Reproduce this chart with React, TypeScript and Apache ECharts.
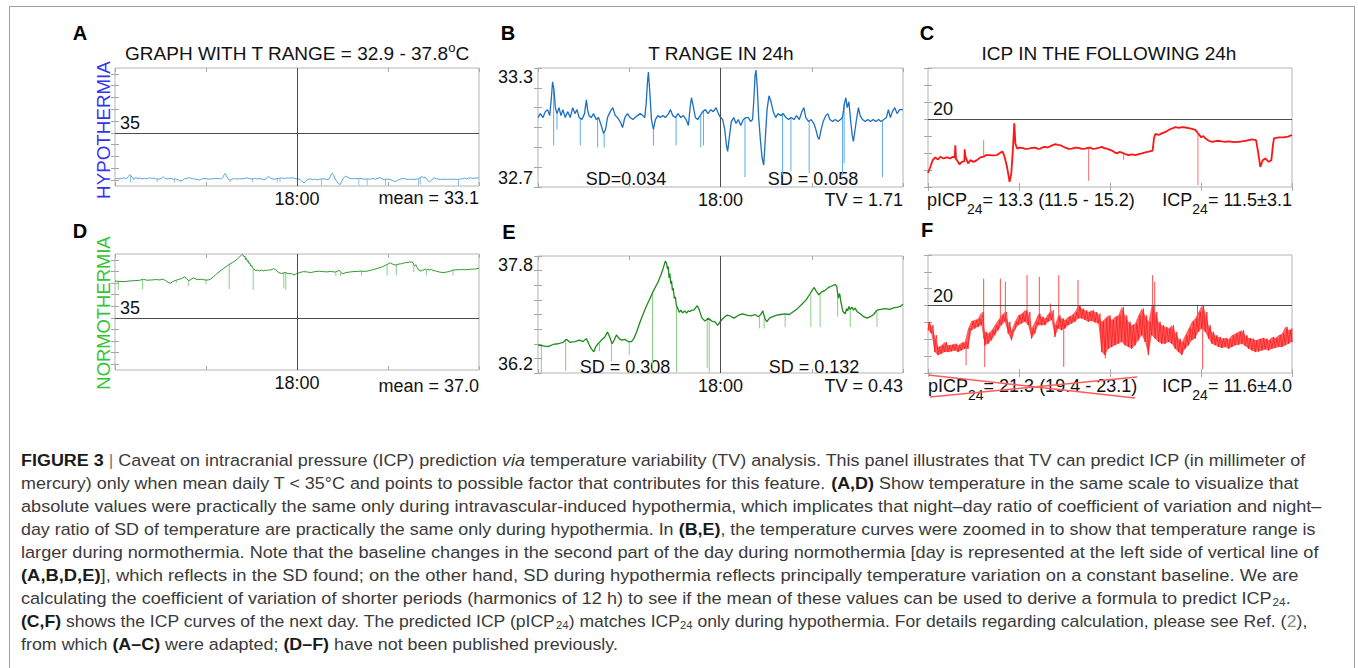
import React, { useEffect, useRef } from "react";
import * as echarts from "echarts";

// ================= DATA =================
// time in hours from 06:00 (0) to 06:00 next day (24); 18:00 = 12
const timeTicks = [0, 6, 12, 18, 24];
const midTime = 12;
const midLabel = "18:00";

// Hypothermia temperature (panels A and B), degC
const hypoTemp: number[][] = [
  [0, 33.05], [0.15, 33.07], [0.33, 33.05], [0.48, 33.08], [0.63, 33.09], [0.77, 33.06], [0.88, 33.15], [0.96, 33.23], [1.05, 33.19], [1.14, 33.1],
  [1.25, 33.07], [1.38, 33.1], [1.51, 33.06], [1.64, 33.09], [1.79, 33.05], [1.95, 33.08], [2.12, 33.05], [2.28, 33.1], [2.43, 33.07], [2.56, 33.09],
  [2.71, 33.05], [2.89, 33.04], [3.06, 33.07], [3.18, 33.14], [3.26, 33.09], [3.35, 33.06], [3.5, 33.05], [3.65, 33.07], [3.83, 33.04], [3.98, 33.05],
  [4.16, 33.01], [4.31, 32.97], [4.44, 32.99], [4.57, 33.05], [4.75, 33.08], [4.92, 33.1], [5.08, 33.06], [5.23, 33.05], [5.4, 33.03], [5.56, 33.0],
  [5.71, 33.05], [5.89, 33.07], [6.06, 33.05], [6.24, 33.04], [6.39, 33.05], [6.54, 33.06], [6.72, 33.07], [6.89, 33.06], [7.02, 33.05], [7.11, 33.12],
  [7.2, 33.23], [7.26, 33.28], [7.35, 33.18], [7.46, 33.04], [7.59, 32.99], [7.72, 33.04], [7.88, 33.06], [8.03, 33.05], [8.21, 33.06], [8.38, 33.05],
  [8.58, 33.07], [8.71, 33.09], [8.86, 33.06], [9.04, 33.05], [9.21, 33.07], [9.39, 33.05], [9.56, 33.06], [9.74, 33.04], [9.89, 33.01], [10.0, 33.1],
  [10.09, 33.15], [10.2, 33.11], [10.35, 33.05], [10.5, 33.04], [10.66, 33.06], [10.83, 33.08], [11.01, 33.09], [11.18, 33.07], [11.36, 33.09], [11.53, 33.08],
  [11.71, 33.1], [11.86, 33.07], [12.01, 33.05], [12.14, 33.04], [12.28, 32.99], [12.39, 32.91], [12.47, 32.88], [12.58, 32.95], [12.71, 33.03], [12.87, 33.05],
  [13.02, 33.02], [13.17, 33.04], [13.33, 33.01], [13.5, 33.04], [13.68, 33.05], [13.83, 33.05], [13.98, 33.03], [14.11, 33.04], [14.2, 33.15], [14.27, 33.26],
  [14.33, 33.29], [14.42, 33.2], [14.51, 33.05], [14.62, 32.94], [14.73, 32.85], [14.84, 32.81], [14.95, 32.95], [15.06, 33.09], [15.19, 33.16], [15.32, 33.13],
  [15.47, 33.08], [15.63, 33.05], [15.78, 33.07], [15.95, 33.06], [16.13, 33.07], [16.3, 33.05], [16.48, 33.04], [16.65, 33.05], [16.83, 33.04], [17.0, 33.06],
  [17.18, 33.04], [17.35, 33.08], [17.48, 33.1], [17.61, 33.05], [17.79, 33.03], [17.96, 33.04], [18.14, 33.02], [18.27, 32.99], [18.4, 32.95], [18.49, 32.94],
  [18.62, 32.99], [18.75, 33.03], [18.93, 33.06], [19.06, 33.07], [19.19, 33.04], [19.37, 33.03], [19.54, 33.04], [19.72, 33.03], [19.89, 33.04], [20.02, 33.05],
  [20.15, 33.12], [20.24, 33.15], [20.33, 33.1], [20.44, 33.13], [20.55, 33.04], [20.66, 32.96], [20.74, 32.93], [20.85, 32.99], [20.96, 33.05], [21.07, 33.1],
  [21.18, 33.06], [21.34, 33.04], [21.51, 33.03], [21.69, 33.04], [21.86, 33.03], [22.04, 33.04], [22.21, 33.03], [22.39, 33.04], [22.56, 33.03], [22.74, 33.04],
  [22.91, 33.05], [23.04, 33.09], [23.17, 33.05], [23.3, 33.08], [23.46, 33.1], [23.61, 33.07], [23.78, 33.09], [24, 33.09],
];
// short downward artefact spikes: [time, tip value]
const hypoTempSpikes: number[][] = [
  [1.03, 32.91], [1.25, 32.99], [2.78, 32.91], [3.92, 32.9], [4.35, 32.9], [7.59, 32.91], [9.08, 32.91], [10.7, 32.9], [10.88, 32.91],
  [13.61, 32.75], [16.08, 32.76], [16.63, 32.78], [17.83, 32.77], [20.02, 32.76], [20.13, 32.82], [22.65, 32.75],
];

// Normothermia temperature (panels D and E), degC
const normoTemp: number[][] = [
  [0, 36.58], [0.33, 36.57], [0.66, 36.56], [0.99, 36.59], [1.32, 36.6], [1.65, 36.62], [1.87, 36.66], [2.09, 36.62], [2.42, 36.63], [2.74, 36.65],
  [2.96, 36.63], [3.18, 36.67], [3.36, 36.59], [3.51, 36.53], [3.67, 36.49], [3.8, 36.56], [3.95, 36.6], [4.17, 36.65], [4.39, 36.69], [4.57, 36.76],
  [4.72, 36.69], [4.87, 36.6], [5.01, 36.65], [5.16, 36.72], [5.34, 36.67], [5.49, 36.65], [5.71, 36.66], [5.93, 36.63], [6.15, 36.63], [6.3, 36.67],
  [6.48, 36.76], [6.7, 36.89], [6.92, 37.01], [7.14, 37.12], [7.36, 37.22], [7.58, 37.32], [7.73, 37.38], [7.91, 37.45], [8.08, 37.54], [8.23, 37.63],
  [8.37, 37.73], [8.45, 37.7], [8.52, 37.62], [8.56, 37.66], [8.62, 37.5], [8.67, 37.56], [8.73, 37.42], [8.78, 37.46], [8.84, 37.33], [8.89, 37.36],
  [8.96, 37.22], [9.03, 37.24], [9.1, 37.12], [9.16, 37.1], [9.29, 37.03], [9.4, 37.06], [9.51, 37.02], [9.64, 37.05], [9.77, 37.02], [9.88, 37.05],
  [9.99, 37.04], [10.12, 37.06], [10.25, 37.06], [10.36, 37.09], [10.47, 37.12], [10.61, 37.06], [10.78, 36.95], [10.98, 36.91], [11.2, 36.95], [11.42, 36.91],
  [11.64, 36.9], [11.81, 36.85], [11.97, 36.9], [12.19, 36.95], [12.41, 36.99], [12.63, 36.98], [12.89, 36.95], [13.18, 36.99], [13.46, 37.01], [13.72, 36.99],
  [13.99, 36.98], [14.27, 37.0], [14.49, 36.97], [14.65, 37.0], [14.78, 37.05], [14.91, 36.95], [15.04, 36.9], [15.22, 36.95], [15.44, 36.97], [15.7, 36.99],
  [15.96, 37.0], [16.25, 37.01], [16.53, 37.0], [16.8, 37.04], [17.06, 37.08], [17.35, 37.14], [17.63, 37.2], [17.85, 37.27], [18.03, 37.33], [18.16, 37.37],
  [18.29, 37.32], [18.47, 37.27], [18.66, 37.31], [18.88, 37.33], [19.1, 37.37], [19.32, 37.39], [19.54, 37.41], [19.65, 37.38], [19.74, 37.22], [19.83, 37.29],
  [19.92, 37.17], [20.05, 37.04], [20.2, 37.01], [20.29, 37.08], [20.36, 37.05], [20.45, 37.11], [20.53, 37.07], [20.64, 37.1], [20.75, 37.06], [20.86, 37.09],
  [20.97, 37.04], [21.19, 37.01], [21.41, 36.97], [21.63, 36.95], [21.85, 36.97], [22.07, 37.0], [22.29, 37.06], [22.55, 37.07], [22.84, 37.08], [23.12, 37.07],
  [23.39, 37.09], [23.65, 37.1], [23.83, 37.11], [24, 37.14],
];
const normoTempSpikes: number[][] = [
  [0.22, 36.21], [1.82, 36.23], [4.04, 36.5], [4.83, 36.36], [6.0, 36.45], [7.53, 36.23], [9.11, 36.21], [11.13, 36.27], [11.26, 36.21],
  [14.56, 36.81], [14.87, 36.81], [16.25, 36.83], [17.94, 36.83], [18.55, 36.83], [19.7, 36.97], [20.53, 36.83], [22.29, 36.83],
];

// ICP following 24h, hypothermia (panel C), mmHg
const hypoIcp: number[][] = [
  [0, 4.1], [0.15, 5.9], [0.31, 7.9], [0.48, 8.7], [0.66, 8.1], [0.81, 8.9], [1.03, 8.4], [1.25, 8.7], [1.47, 8.4], [1.63, 8.9],
  [1.76, 8.6], [1.8, 12.3], [1.85, 8.2], [1.91, 7.9], [2.07, 6.7], [2.24, 7.4], [2.4, 7.6], [2.42, 11.1], [2.46, 9.1], [2.64, 6.9],
  [2.79, 7.9], [3.01, 7.4], [3.23, 7.9], [3.45, 8.7], [3.67, 8.9], [3.82, 9.4], [4.04, 9.4], [4.26, 9.3], [4.55, 9.4], [4.77, 10.1],
  [4.92, 10.4], [5.05, 8.9], [5.21, 5.9], [5.38, 1.5], [5.49, 3.9], [5.6, 11.3], [5.69, 18.7], [5.76, 12.8], [5.87, 11.3], [6.03, 11.6],
  [6.2, 11.5], [6.42, 11.2], [6.64, 11.3], [6.86, 11.5], [7.08, 11.6], [7.25, 11.2], [7.41, 11.3], [7.58, 11.7], [7.74, 11.8], [7.9, 11.6],
  [8.07, 12.0], [8.23, 12.3], [8.4, 12.6], [8.56, 12.4], [8.73, 12.3], [8.89, 11.9], [9.05, 11.6], [9.27, 11.2], [9.49, 11.3], [9.71, 11.6],
  [9.93, 11.5], [10.15, 11.2], [10.37, 11.3], [10.53, 11.5], [10.7, 11.6], [10.86, 11.2], [11.03, 11.3], [11.25, 11.5], [11.47, 11.8], [11.63, 11.4],
  [11.8, 11.3], [11.96, 11.0], [12.13, 10.7], [12.3, 10.2], [12.46, 9.9], [12.62, 10.3], [12.79, 10.1], [13.01, 9.7], [13.23, 9.4], [13.45, 9.6],
  [13.67, 9.4], [13.89, 9.7], [14.11, 9.9], [14.33, 10.2], [14.55, 10.4], [14.81, 10.7], [14.9, 14.3], [14.99, 15.6], [15.21, 15.3], [15.38, 15.7],
  [15.54, 16.0], [15.71, 16.3], [15.87, 16.8], [16.09, 17.2], [16.31, 17.6], [16.53, 17.4], [16.75, 17.6], [16.97, 17.5], [17.19, 17.3], [17.41, 17.1],
  [17.63, 16.8], [17.8, 15.8], [18.02, 14.6], [18.15, 15.0], [18.29, 14.3], [18.51, 13.6], [18.73, 13.3], [18.95, 13.5], [19.16, 13.6], [19.38, 13.4],
  [19.6, 13.3], [19.82, 13.4], [20.04, 13.3], [20.26, 13.2], [20.48, 13.3], [20.7, 13.4], [20.92, 13.6], [21.14, 13.8], [21.36, 14.0], [21.63, 13.8],
  [21.76, 10.4], [21.91, 5.9], [22.07, 7.9], [22.24, 8.4], [22.46, 7.4], [22.64, 7.9], [22.73, 11.8], [22.81, 14.3], [23.12, 14.6], [23.45, 14.6],
  [23.74, 14.8], [24, 15.3],
];
const hypoIcpSpikes: number[][] = [[3.67, 13.8], [10.59, 1.8], [17.8, 0.5], [12.9, 8.0]];

// ICP following 24h, normothermia (panel F): upper / lower edge of the noisy trace, 110 equal steps over 24 h
const normoIcpHigh: number[] = [
  15.2, 14.2, 11.2, 7.7, 8.2, 9.2, 8.2, 8.4, 8.7, 8.2, 9.0, 9.2, 13.2, 15.4, 15.7, 16.2, 18.1, 12.2, 11.7, 12.7,
  14.2, 15.7, 17.1, 18.1, 15.2, 12.7, 15.2, 17.1, 17.6, 18.6, 18.1, 13.2, 15.2, 17.6, 16.7, 16.2, 17.6, 18.6, 14.2, 17.1,
  16.2, 15.7, 16.7, 17.1, 18.1, 20.1, 19.1, 18.6, 18.1, 18.6, 18.1, 17.6, 15.2, 16.2, 17.1, 15.7, 16.7, 17.1, 19.6, 17.1,
  15.2, 14.2, 14.7, 17.1, 19.1, 17.1, 15.2, 20.1, 18.1, 15.2, 14.2, 13.7, 13.2, 14.2, 12.2, 10.2, 9.2, 11.2, 13.2, 15.2,
  16.2, 18.1, 20.1, 18.1, 14.2, 12.2, 11.2, 10.7, 10.2, 10.4, 10.0, 11.2, 11.7, 12.2, 12.7, 11.2, 10.4, 10.2, 9.7, 10.0,
  10.4, 10.2, 9.7, 10.7, 10.4, 11.2, 11.7, 13.7, 12.7, 13.2,
];
const normoIcpLow: number[] = [
  12.7, 11.7, 6.2, 5.3, 5.7, 6.2, 6.2, 6.4, 6.7, 6.2, 6.7, 7.2, 7.2, 12.7, 13.2, 13.7, 14.2, 8.2, 8.7, 9.7,
  11.2, 12.7, 14.2, 15.2, 11.7, 9.7, 12.7, 14.2, 14.7, 15.2, 14.2, 10.2, 11.7, 14.2, 14.2, 14.2, 15.2, 15.7, 10.7, 13.2,
  12.7, 13.2, 14.2, 14.7, 15.2, 16.2, 16.2, 15.7, 15.2, 15.4, 15.0, 14.7, 6.2, 5.3, 7.2, 7.7, 8.2, 8.7, 9.2, 8.2,
  7.7, 7.2, 8.2, 9.7, 11.2, 9.2, 5.3, 11.2, 10.2, 9.2, 8.7, 8.7, 9.2, 8.7, 7.2, 6.2, 5.3, 7.2, 8.2, 9.7,
  10.2, 12.2, 13.2, 12.2, 10.2, 8.7, 8.2, 7.7, 7.4, 7.7, 7.2, 7.7, 8.2, 8.4, 8.7, 8.0, 7.2, 6.7, 6.2, 6.4,
  6.7, 7.0, 6.7, 7.2, 7.4, 7.7, 7.7, 8.2, 8.7, 9.2,
];
const normoIcpSpikes: number[][] = [
  [2.51, 2.3], [3.67, 28.0], [3.74, 1.8], [4.77, 28.0], [5.1, 27.1], [6.53, 29.0], [7.34, 28.5], [8.07, 20.6], [8.62, 29.0],
  [8.95, 1.8], [9.89, 27.6], [11.69, 4.3], [14.81, 29.0], [14.95, 27.1], [17.77, 20.1], [18.11, 1.1],
];

// reference lines
const tempRefLine = 35;
const icpRefLine = 20;

// texts
const titleA = "GRAPH WITH T RANGE = 32.9 - 37.8";
const titleB = "T RANGE IN 24h";
const titleC = "ICP IN THE FOLLOWING 24h";
const sideHypo = "HYPOTHERMIA";
const sideNormo = "NORMOTHERMIA";
const statA = "mean = 33.1";
const statB = ["SD=0.034", "SD = 0.058", "TV = 1.71"];
const statC = ["= 13.3 (11.5 - 15.2)", "= 11.5\u00b13.1"];
const statD = "mean = 37.0";
const statE = ["SD = 0.308", "SD = 0.132", "TV = 0.43"];
const statF = ["= 21.3 (19.4 - 23.1)", "= 11.6\u00b14.0"];

const captionLines: [string, string][][] = [
  [["b", "FIGURE 3"], ["g", " | "], ["n", "Caveat on intracranial pressure (ICP) prediction "], ["i", "via"], ["n", " temperature variability (TV) analysis. This panel illustrates that TV can predict ICP (in millimeter of"]],
  [["n", "mercury) only when mean daily T < 35\u00b0C and points to possible factor that contributes for this feature. "], ["b", "(A,D)"], ["n", " Show temperature in the same scale to visualize that"]],
  [["n", "absolute values were practically the same only during intravascular-induced hypothermia, which implicates that night\u2013day ratio of coefficient of variation and night\u2013"]],
  [["n", "day ratio of SD of temperature are practically the same only during hypothermia. In "], ["b", "(B,E)"], ["n", ", the temperature curves were zoomed in to show that temperature range is"]],
  [["n", "larger during normothermia. Note that the baseline changes in the second part of the day during normothermia [day is represented at the left side of vertical line of"]],
  [["b", "(A,B,D,E)"], ["n", "], which reflects in the SD found; on the other hand, SD during hypothermia reflects principally temperature variation on a constant baseline. We are"]],
  [["n", "calculating the coefficient of variation of shorter periods (harmonics of 12 h) to see if the mean of these values can be used to derive a formula to predict ICP"], ["s", "24"], ["n", "."]],
  [["b", "(C,F)"], ["n", " shows the ICP curves of the next day. The predicted ICP (pICP"], ["s", "24"], ["n", ") matches ICP"], ["s", "24"], ["n", " only during hypothermia. For details regarding calculation, please see Ref. ("], ["r", "2"], ["n", "),"]],
  [["n", "from which "], ["b", "(A\u2013C)"], ["n", " were adapted; "], ["b", "(D\u2013F)"], ["n", " have not been published previously."]],
];
const captionRight = [1306, 1299, 1323, 1316, 1320, 1299, 1291, 1307, 618];

// ================= LAYOUT / STYLE =================
const FONT = '"Liberation Sans", Arial, Helvetica, sans-serif';
const CAP_FONT = '"Liberation Sans", Arial, Helvetica, sans-serif';
const CAP_SIZE = 17;
const CAP_TOP = 460;
const CAP_STEP = 23;
const CAP_LEFT = 21;

const capStyles: Record<string, any> = {
  n: { fontSize: CAP_SIZE, fill: "#3a3a3a", lineHeight: 20 },
  b: { fontSize: CAP_SIZE, fill: "#1a1a1a", fontWeight: "bold", lineHeight: 20 },
  i: { fontSize: CAP_SIZE, fill: "#3a3a3a", fontStyle: "italic", lineHeight: 20 },
  g: { fontSize: CAP_SIZE, fill: "#777", lineHeight: 20 },
  r: { fontSize: CAP_SIZE, fill: "#8a8a8a", lineHeight: 20 },
  s: { fontSize: 11, fill: "#3a3a3a", lineHeight: 11, verticalAlign: "bottom" },
};

function measureLine(segs: [string, string][]) {
  const ctx = document.createElement("canvas").getContext("2d");
  if (!ctx) return 1;
  let w = 0;
  for (const [k, t] of segs) {
    const st = capStyles[k];
    ctx.font = `${st.fontStyle || "normal"} ${st.fontWeight || "normal"} ${st.fontSize}px ${CAP_FONT}`;
    w += ctx.measureText(t).width;
  }
  return w;
}

function nearestValue(data: number[][], t: number) {
  let best = data[0][1];
  let bd = Infinity;
  for (const p of data) {
    const d = Math.abs(p[0] - t);
    if (d < bd) { bd = d; best = p[1]; }
  }
  return best;
}

const tempTicksAD = [33, 33.5, 34, 34.5, 35, 35.5, 36, 36.5, 37, 37.5];

function buildOption() {
  const grids = [
    { left: 115, top: 68, width: 364, height: 118 }, // A
    { left: 538, top: 68, width: 365, height: 119 }, // B
    { left: 928, top: 68, width: 364, height: 119 }, // C
    { left: 115, top: 254, width: 364, height: 116 }, // D
    { left: 538, top: 256, width: 365, height: 117 }, // E
    { left: 928, top: 255, width: 364, height: 118 }, // F
  ].map((g) => ({ ...g, show: true, borderColor: "#b4b4b4", borderWidth: 1, backgroundColor: "transparent" }));

  const tick = { show: true, inside: true, length: 4, lineStyle: { color: "#a8a8a8", width: 1 } };
  const xAxes: any[] = [];
  const yAxes: any[] = [];
  const midLabelPanels = [0, 1, 3, 4];
  for (let i = 0; i < 6; i++) {
    const showMid = midLabelPanels.includes(i);
    xAxes.push({
      gridIndex: i, type: "value", min: timeTicks[0], max: timeTicks[timeTicks.length - 1], interval: 6, position: "bottom",
      axisLine: { show: false }, axisTick: tick, splitLine: { show: false },
      axisLabel: {
        show: showMid, margin: 4, fontSize: 18, color: "#111", fontFamily: FONT,
        formatter: (v: number) => (v === midTime ? midLabel : ""),
      },
    });
    xAxes.push({
      gridIndex: i, type: "value", min: 0, max: 24, interval: 6, position: "top",
      axisLine: { show: false }, axisTick: tick, splitLine: { show: false }, axisLabel: { show: false },
    });
  }
  const yCfg = [
    { min: 32.75, max: 37.75, custom: tempTicksAD },
    { min: 32.7, max: 33.3, interval: 0.1, labels: [32.7, 33.3] },
    { min: 0, max: 35, interval: 5 },
    { min: 32.75, max: 37.75, custom: tempTicksAD },
    { min: 36.2, max: 37.8, interval: 0.2, labels: [36.2, 37.8] },
    { min: 0, max: 35, interval: 5 },
  ];
  yCfg.forEach((c: any, i) => {
    for (const pos of ["left", "right"]) {
      const ax: any = {
        gridIndex: i, type: "value", min: c.min, max: c.max, position: pos,
        axisLine: { show: false }, splitLine: { show: false },
        axisTick: c.custom ? { ...tick, customValues: c.custom } : tick,
        axisLabel: { show: false },
      };
      if (c.interval) ax.interval = c.interval;
      if (pos === "left" && c.labels) {
        ax.axisLabel = {
          show: true, fontSize: 18, color: "#111", fontFamily: FONT, margin: 5,
          verticalAlignMinLabel: "bottom", verticalAlignMaxLabel: "top",
          formatter: (v: number) => (c.labels.some((l: number) => Math.abs(l - v) < 1e-6) ? v.toFixed(1) : ""),
        };
      }
      yAxes.push(ax);
    }
  });

  const refLineStyle = { color: "#4d4d4d", width: 1, type: "solid" };
  const hLine = (val: number) => ({
    yAxis: val,
    label: { show: true, formatter: String(val), position: "insideStartTop", distance: [5, 1], fontSize: 18, color: "#111", fontFamily: FONT },
  });
  const vLine = { xAxis: midTime, label: { show: false } };
  const markLine = (data: any[]) => ({ silent: true, symbol: ["none", "none"], lineStyle: refLineStyle, data, animation: false });

  const lineSeries = (i: number, data: number[][], color: string, width: number, ml: any[]) => ({
    type: "line", xAxisIndex: 2 * i, yAxisIndex: 2 * i, data, showSymbol: false, symbol: "none", silent: true,
    lineStyle: { color, width }, clip: true, markLine: ml.length ? markLine(ml) : undefined, z: 3,
  });
  const spikeSeries = (i: number, spikes: number[][], baseOf: (t: number) => number, color: string, width: number) => ({
    type: "custom", xAxisIndex: 2 * i, yAxisIndex: 2 * i, silent: true, clip: true, z: 2,
    data: spikes.map((s) => [s[0], s[1], baseOf(s[0])]),
    encode: { x: 0, y: 1 },
    renderItem: (_p: any, api: any) => {
      const a = api.coord([api.value(0), api.value(2)]);
      const b = api.coord([api.value(0), api.value(1)]);
      return { type: "line", shape: { x1: a[0], y1: a[1], x2: b[0], y2: b[1] }, style: { stroke: color, lineWidth: width } };
    },
  });

  // F: band between lower and upper edge + zig-zag trace
  const nF = normoIcpLow.length;
  const fStep = 24 / (nF - 1);
  const fData: number[][] = [];
  normoIcpLow.forEach((lo, k) => {
    const t = k * fStep;
    fData.push([t, lo]);
    fData.push([k < nF - 1 ? t + fStep / 2 : t, normoIcpHigh[k]]);
  });
  const fBase = (t: number) => {
    const k = Math.min(nF - 1, Math.max(0, Math.round(t / fStep)));
    return (normoIcpLow[k] + normoIcpHigh[k]) / 2;
  };
  const fBand = {
    type: "custom", xAxisIndex: 10, yAxisIndex: 10, silent: true, clip: true, z: 2,
    data: [[0, normoIcpLow[0]]],
    encode: { x: 0, y: 1 },
    renderItem: (_p: any, api: any) => {
      const pts: number[][] = [];
      for (let k = 0; k < nF; k++) pts.push(api.coord([k * fStep, normoIcpHigh[k]]));
      for (let k = nF - 1; k >= 0; k--) pts.push(api.coord([k * fStep, normoIcpLow[k]]));
      return { type: "polygon", shape: { points: pts }, style: { fill: "rgba(255,40,40,0.72)" } };
    },
  };

  const series = [
    lineSeries(0, hypoTemp, "#5aa3de", 1, [hLine(tempRefLine), vLine]),
    spikeSeries(0, hypoTempSpikes, (t) => nearestValue(hypoTemp, t), "#8cc2ec", 1),
    lineSeries(1, hypoTemp, "#1c6fc2", 1.3, [vLine]),
    spikeSeries(1, hypoTempSpikes, (t) => nearestValue(hypoTemp, t), "#5eaae8", 1),
    lineSeries(2, hypoIcp, "#ff1414", 1.8, [hLine(icpRefLine)]),
    spikeSeries(2, hypoIcpSpikes, (t) => nearestValue(hypoIcp, t), "#ff7070", 1),
    lineSeries(3, normoTemp, "#2e9a2e", 1, [hLine(tempRefLine), vLine]),
    spikeSeries(3, normoTempSpikes, (t) => nearestValue(normoTemp, t), "#86d086", 1),
    lineSeries(4, normoTemp, "#1f8a1f", 1.3, [vLine]),
    spikeSeries(4, normoTempSpikes, (t) => nearestValue(normoTemp, t), "#86d086", 1),
    fBand,
    lineSeries(5, fData, "#ff1a1a", 0.8, [hLine(icpRefLine)]),
    spikeSeries(5, normoIcpSpikes, fBase, "#ff4d4d", 1),
  ];

  // ---------- graphic texts ----------
  const txt = (x: number, y: number, text: string, align: string, extra: any = {}) => ({
    type: "text", x, y, silent: true,
    style: { text, fontFamily: FONT, fontSize: 18, fill: "#111", align, verticalAlign: "middle", textAlign: align, textVerticalAlign: "middle", ...extra },
  });
  const letter = (x: number, y: number, t: string) => txt(x, y, t, "center", { fontWeight: "bold", fontSize: 20, fill: "#000" });
  const subRich = {
    n: { fontFamily: FONT, fontSize: 18, fill: "#111", lineHeight: 32 },
    sub: { fontFamily: FONT, fontSize: 14, fill: "#111", lineHeight: 14, verticalAlign: "bottom" },
  };
  const icpText = (x: number, y: number, prefix: string, rest: string, align: string) => ({
    type: "text", x, y, silent: true,
    style: { text: `{n|${prefix}}{sub|24}{n|${rest}}`, rich: subRich, align, verticalAlign: "middle", textAlign: align, textVerticalAlign: "middle", fontFamily: FONT, fontSize: 18 },
  });

  const elements: any[] = [
    { type: "rect", silent: true, shape: { x: 9.5, y: 6.5, width: 1345, height: 700 }, style: { fill: "none", stroke: "#a0a0a0", lineWidth: 1 } },
    letter(80, 33, "A"), letter(508, 33, "B"), letter(927, 33, "C"),
    letter(80, 231, "D"), letter(509, 232, "E"), letter(927, 230, "F"),
    {
      type: "text", x: 297, y: 53, silent: true,
      style: {
        text: `{n|${titleA}}{sup|o}{n|C}`, align: "center", verticalAlign: "middle", textAlign: "center", textVerticalAlign: "middle",
        fontFamily: FONT, fontSize: 19,
        rich: {
          n: { fontFamily: FONT, fontSize: 19, fill: "#111", lineHeight: 24 },
          sup: { fontFamily: FONT, fontSize: 13, fill: "#111", lineHeight: 13, verticalAlign: "top" },
        },
      },
    },
    txt(721, 53, titleB, "center", { fontSize: 19 }),
    txt(1109, 53, titleC, "center", { fontSize: 19 }),
    { ...txt(103, 130, sideHypo, "center", { fill: "#3333ee", fontSize: 18.8 }), rotation: Math.PI / 2 },
    { ...txt(103, 313, sideNormo, "center", { fill: "#33c433", fontSize: 18.4 }), rotation: Math.PI / 2 },
    txt(479, 198, statA, "right"),
    txt(626, 179, statB[0], "center"), txt(813, 179, statB[1], "center"), txt(903, 200, statB[2], "right"),
    icpText(927, 200, "pICP", statC[0], "left"), icpText(1292, 200, "ICP", statC[1], "right"),
    txt(479, 386, statD, "right"),
    txt(625, 367, statE[0], "center"), txt(814, 367, statE[1], "center"), txt(903, 386, statE[2], "right"),
    icpText(928, 386, "pICP", statF[0], "left"), icpText(1292, 386, "ICP", statF[1], "right"),
    { type: "line", silent: true, shape: { x1: 928, y1: 375, x2: 1135, y2: 398 }, style: { stroke: "#ff5c5c", lineWidth: 1.5 } },
    { type: "line", silent: true, shape: { x1: 930, y1: 397, x2: 1137, y2: 377 }, style: { stroke: "#ff5c5c", lineWidth: 1.5 } },
  ];

  const rich: any = {};
  for (const k of Object.keys(capStyles)) rich[k] = { fontFamily: CAP_FONT, ...capStyles[k] };
  captionLines.forEach((segs, li) => {
    const w = measureLine(segs);
    const sx = (captionRight[li] - CAP_LEFT) / w;
    elements.push({
      type: "text", x: CAP_LEFT, y: CAP_TOP + li * CAP_STEP, scaleX: sx, silent: true,
      style: {
        text: segs.map(([k, t]) => `{${k}|${t}}`).join(""), rich,
        fontFamily: CAP_FONT, fontSize: CAP_SIZE, align: "left", verticalAlign: "middle", textAlign: "left", textVerticalAlign: "middle",
      },
    });
  });

  return {
    animation: false,
    backgroundColor: "#ffffff",
    grid: grids,
    xAxis: xAxes,
    yAxis: yAxes,
    series,
    graphic: { elements },
  };
}

export default function App() {
  const ref = useRef<HTMLDivElement>(null);
  useEffect(() => {
    document.body.style.margin = "0";
    if (!ref.current) return;
    const chart = echarts.init(ref.current, null, { renderer: "svg", width: 1358, height: 668 });
    chart.setOption(buildOption() as any);
    return () => chart.dispose();
  }, []);
  return <div ref={ref} style={{ width: 1358, height: 668, position: "absolute", left: 0, top: 0, background: "#fff" }} />;
}
